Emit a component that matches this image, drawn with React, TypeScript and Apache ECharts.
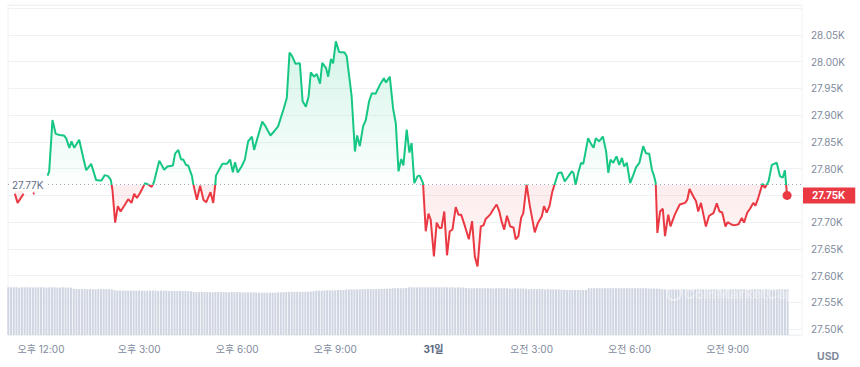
import React, { useEffect, useRef } from 'react';
import * as echarts from 'echarts';

// minutes after 12:00 PM (day 30)
const times = [
  -48, -43, -32, -25, -15, -12, 0,
  12, 15, 21, 27, 34, 42, 46, 52, 56, 61, 70, 79, 83, 92, 101, 107, 111, 117, 123, 128, 131, 136, 141, 146, 153, 160, 166, 171, 176, 182, 191, 197, 203, 207,
  217, 226, 232, 242, 246, 252, 257, 261, 266, 270, 277, 279, 286, 292, 298, 303, 311, 316, 320, 321, 330, 333, 341, 347, 352, 356, 361, 368, 374, 380, 387, 391, 397,
  406, 412, 421, 428, 435, 445, 451, 456, 461, 467, 475, 480, 486, 491, 495, 501, 506, 512, 516, 523, 527, 532, 536, 541, 547, 557, 561, 570, 576, 580, 585, 591, 596,
  602, 607, 614, 622, 629, 633, 640, 646, 651, 656, 661, 665, 671, 676, 680, 685, 691, 695, 701, 706, 711, 715, 721, 726, 731, 735, 740, 745, 750, 755, 761, 766, 771,
  778, 785, 791, 796, 801, 807, 812, 816, 824, 830, 836, 841, 845, 850, 855, 861, 867, 871, 876, 881, 885, 891, 897, 900, 906, 912, 919, 923, 928, 933, 938, 944, 949,
  955, 961, 968, 974, 977, 981, 986, 991, 995, 1004, 1010, 1014, 1018, 1024, 1031, 1037, 1041, 1045, 1050, 1056, 1061, 1066, 1070, 1075, 1081, 1087, 1092, 1098, 1105,
  1110, 1116, 1121, 1125, 1128, 1131, 1136, 1141, 1145, 1151, 1155, 1163, 1172, 1182, 1186, 1190, 1197, 1202, 1206, 1211, 1220, 1226, 1234, 1240, 1245, 1250, 1256,
  1260, 1266, 1272, 1280, 1286, 1290, 1296, 1301, 1307, 1311, 1316, 1324, 1328, 1335, 1341, 1350, 1356, 1361, 1365, 1369,
];

// BTC price, USD (null = gap)
const prices: (number | null)[] = [
  27753, 27736, 27753, null, 27753, 27754, null,
  27787, 27795, 27891, 27865, 27863, 27862, 27857, 27839, 27851, 27839, 27854, 27814, 27797, 27809, 27779, 27778, 27778, 27788, 27786, 27779, 27761, 27699, 27730, 27720, 27731, 27743, 27736, 27753, 27745, 27755, 27773, 27770, 27766, 27774,
  27815, 27798, 27804, 27806, 27828, 27835, 27817, 27817, 27807, 27806, 27786, 27773, 27742, 27768, 27742, 27737, 27756, 27736, 27773, 27787, 27804, 27809, 27809, 27817, 27793, 27812, 27793, 27804, 27817, 27851, 27860, 27835, 27857,
  27888, 27879, 27862, 27870, 27879, 27911, 27932, 28017, 28010, 27996, 27997, 27926, 27916, 27935, 27980, 27972, 27977, 27959, 27998, 27988, 27972, 28005, 27997, 28038, 28018, 28017, 28010, 27935, 27832, 27862, 27842, 27879, 27891,
  27926, 27941, 27940, 27957, 27969, 27961, 27972, 27913, 27885, 27795, 27818, 27806, 27873, 27830, 27848, 27773, 27786, 27787, 27773, 27683, 27716, 27705, 27636, 27699, 27689, 27689, 27720, 27638, 27683, 27686, 27728, 27714, 27714,
  27692, 27668, 27702, 27636, 27617, 27692, 27694, 27706, 27714, 27724, 27733, 27720, 27702, 27686, 27712, 27692, 27690, 27668, 27674, 27708, 27717, 27770, 27730, 27714, 27681, 27699, 27711, 27730, 27718, 27730, 27756, 27776, 27792,
  27793, 27776, 27786, 27795, 27792, 27770, 27793, 27811, 27809, 27857, 27845, 27839, 27857, 27851, 27860, 27832, 27792, 27817, 27811, 27823, 27807, 27820, 27804, 27811, 27773, 27789, 27803, 27811, 27842,
  27829, 27828, 27798, 27786, 27773, 27680, 27720, 27725, 27674, 27714, 27692, 27714, 27733, 27736, 27742, 27762, 27748, 27739, 27720, 27736, 27692, 27712, 27717, 27735, 27720, 27718, 27692,
  27700, 27696, 27694, 27696, 27708, 27699, 27718, 27725, 27736, 27731, 27745, 27772, 27764, 27776, 27807, 27811, 27786, 27783, 27797, 27750,
];

// 24h volume (B USD), one bar per 5 minutes starting at 11:00 AM
const VOL_START = -60;
const VOL_STEP = 5;
const volumes = [
  15.9, 15.9, 15.9, 15.9, 15.8, 15.9, 15.9, 15.9, 15.9, 15.8, 15.9, 15.9,
  15.9, 15.9, 15.8, 15.9, 15.9, 15.9, 15.8, 15.8, 15.9, 15.8, 15.8, 15.8,
  15.4, 15.3, 15.3, 15.3, 15.3, 15.3, 15.3, 15.3, 15.2, 15.3, 15.3, 15.3,
  15.3, 15.3, 15.2, 14.9, 14.8, 14.8, 14.8, 14.8, 14.8, 14.8, 14.8, 14.8,
  14.8, 14.8, 14.7, 14.8, 14.8, 14.8, 14.8, 14.7, 14.8, 14.8, 14.8, 14.7,
  14.7, 14.7, 14.7, 14.7, 14.7, 14.7, 14.6, 14.6, 14.3, 14.3, 14.3, 14.3,
  14.3, 14.3, 14.3, 14.2, 14.3, 14.3, 14.3, 14.3, 14.3, 14.2, 14.3, 14.3,
  14.3, 14.3, 14.2, 14.2, 14.2, 14.2, 14.2, 14.2, 14.1, 14.1, 14.1, 14.1,
  14.1, 14.1, 14.1, 14.2, 14.2, 14.3, 14.3, 14.4, 14.4, 14.4, 14.4, 14.4,
  14.4, 14.4, 14.4, 14.5, 14.6, 14.8, 14.8, 14.8, 14.8, 14.9, 14.9, 14.9,
  14.9, 15.0, 15.0, 15.0, 15.1, 15.2, 15.2, 15.2, 15.2, 15.2, 15.3, 15.3,
  15.3, 15.3, 15.3, 15.3, 15.3, 15.4, 15.4, 15.4, 15.4, 15.6, 15.6, 15.6,
  15.6, 15.6, 15.7, 15.9, 15.9, 15.9, 15.9, 15.9, 15.9, 15.9, 15.9, 15.9,
  15.9, 15.9, 15.9, 15.9, 15.9, 15.9, 15.9, 15.9, 15.8, 15.9, 15.8, 15.8,
  15.7, 15.6, 15.6, 15.6, 15.6, 15.6, 15.6, 15.6, 15.6, 15.6, 15.5, 15.6,
  15.6, 15.6, 15.6, 15.6, 15.5, 15.5, 15.6, 15.5, 15.5, 15.5, 15.4, 15.3,
  15.3, 15.3, 15.3, 15.3, 15.3, 15.2, 15.3, 15.2, 15.2, 15.2, 15.2, 15.1,
  15.1, 15.0, 15.0, 15.0, 15.0, 15.0, 15.0, 15.0, 15.0, 15.6, 15.6, 15.6,
  15.6, 15.6, 15.6, 15.6, 15.6, 15.7, 15.6, 15.6, 15.6, 15.6, 15.6, 15.6,
  15.6, 15.6, 15.6, 15.6, 15.6, 15.6, 15.6, 15.5, 15.5, 15.5, 15.5, 15.4,
  15.3, 15.2, 15.2, 15.2, 15.2, 15.2, 15.2, 15.2, 15.2, 15.2, 15.2, 15.2,
  15.2, 15.2, 15.2, 15.2, 15.2, 15.1, 15.2, 15.2, 15.2, 15.2, 15.2, 15.2,
  15.2, 15.2, 15.2, 15.2, 15.2, 15.2, 15.2, 15.2, 15.1, 15.2, 15.2, 15.2,
  15.2, 15.2, 15.2, 15.2, 15.2, 15.2, 15.2, 15.2, 15.2, 15.2, 15.2,
];

const X_TICK_STEP = 180;
const xTickValues = [0, 180, 360, 540, 720, 900, 1080, 1260];
const xTickLabels = ['오후 12:00', '오후 3:00', '오후 6:00', '오후 9:00', '31일', '오전 3:00', '오전 6:00', '오전 9:00'];
const Y_TICK_STEP = 50;
const yTickValues = [27500, 27550, 27600, 27650, 27700, 27750, 27800, 27850, 27900, 27950, 28000, 28050];

const BASE_PRICE = 27770;
const X_MIN = -60.6;
const X_MAX = 1396.4;
const Y_MIN = 27489;
const Y_MAX = 28106;
const VOL_MAX = 110;

const GREEN = '#16c784';
const RED = '#ea3943';
const GRAY = '#808a9d';
const FONT = 'Inter, "Noto Sans CJK KR", sans-serif';

const GRID = { left: 8, right: 58, top: 5, bottom: 32 };
const W = 860;
const H = 367;

const fmtK = (v: number) => (v / 1000).toFixed(2) + 'K';

export default function App() {
  const ref = useRef<HTMLDivElement>(null);

  useEffect(() => {
    if (!ref.current) return;
    const chart = echarts.init(ref.current, undefined, { renderer: 'svg' });

    const lastPrice = prices[prices.length - 1] as number;
    const lastTime = times[times.length - 1];
    const gTop = GRID.top;
    const gBottom = H - GRID.bottom;
    const gRight = W - GRID.right;
    const toY = (v: number) => gTop + ((Y_MAX - v) / (Y_MAX - Y_MIN)) * (gBottom - gTop);
    const baseFrac = (Y_MAX - BASE_PRICE) / (Y_MAX - Y_MIN);
    const baseY = toY(BASE_PRICE);
    const lastY = toY(lastPrice);

    const areaGradient = new echarts.graphic.LinearGradient(
      0, gTop, 0, gBottom,
      [
        { offset: 0, color: 'rgba(22,199,132,0.32)' },
        { offset: baseFrac, color: 'rgba(22,199,132,0.02)' },
        { offset: baseFrac, color: 'rgba(234,57,67,0.13)' },
        { offset: 1, color: 'rgba(234,57,67,0.0)' },
      ],
      true
    );

    chart.setOption({
      animation: false,
      textStyle: { fontFamily: FONT },
      grid: {
        left: GRID.left,
        right: GRID.right,
        top: GRID.top,
        bottom: GRID.bottom,
        show: true,
        borderColor: '#eff2f5',
        borderWidth: 1,
        backgroundColor: 'transparent',
      },
      xAxis: {
        type: 'value',
        min: X_MIN,
        max: X_MAX,
        minInterval: X_TICK_STEP,
        maxInterval: X_TICK_STEP,
        axisLine: { show: false },
        axisTick: { show: false },
        splitLine: { show: false },
        axisLabel: {
          showMinLabel: false,
          showMaxLabel: false,
          color: GRAY,
          fontSize: 10,
          margin: 9,
          fontFamily: FONT,
          formatter: (v: number) => {
            const i = xTickValues.indexOf(Math.round(v));
            const s = i >= 0 ? xTickLabels[i] : '';
            return s.endsWith('일') ? '{b|' + s + '}' : s;
          },
          rich: { b: { fontWeight: 'bold', color: '#58667e', fontSize: 10, fontFamily: FONT } },
        },
      },
      yAxis: [
        {
          type: 'value',
          position: 'right',
          min: Y_MIN,
          max: Y_MAX,
          minInterval: Y_TICK_STEP,
          maxInterval: Y_TICK_STEP,
          axisLine: { show: false },
          axisTick: { show: false },
          splitLine: { show: true, lineStyle: { color: '#eff2f5', width: 1 } },
          axisLabel: {
            showMinLabel: false,
            showMaxLabel: false,
            color: GRAY,
            fontSize: 10,
            margin: 9,
            fontFamily: FONT,
            // the tick hidden under the current-price tag is left blank
            formatter: (v: number) =>
              yTickValues.indexOf(Math.round(v)) >= 0 && Math.abs(v - lastPrice) > 15 ? fmtK(v) : '',
          },
        },
        { type: 'value', min: 0, max: VOL_MAX, show: false, splitLine: { show: false } },
      ],
      visualMap: {
        show: false,
        type: 'piecewise',
        seriesIndex: 1,
        dimension: 1,
        pieces: [
          { gt: BASE_PRICE, lte: Y_MAX, color: GREEN },
          { gte: Y_MIN, lte: BASE_PRICE, color: RED },
        ],
        outOfRange: { color: RED },
      },
      series: [
        {
          type: 'bar',
          name: 'volume',
          xAxisIndex: 0,
          yAxisIndex: 1,
          barWidth: 2,
          silent: true,
          itemStyle: { color: '#cfd5e1' },
          data: volumes.map((v, i) => [VOL_START + i * VOL_STEP, v]),
          z: 1,
        },
        {
          type: 'line',
          name: 'price',
          xAxisIndex: 0,
          yAxisIndex: 0,
          showSymbol: false,
          symbol: 'none',
          connectNulls: false,
          lineStyle: { width: 2 },
          areaStyle: { origin: BASE_PRICE, color: areaGradient },
          data: times.map((t, i) => [t, prices[i] === null ? '-' : prices[i]]),
          z: 3,
          markLine: {
            silent: true,
            symbol: ['none', 'none'],
            data: [
              {
                yAxis: BASE_PRICE,
                lineStyle: { type: [1, 3], color: '#a1a7bb', width: 1 },
                label: { show: false },
              },
            ],
          },
          markPoint: {
            silent: true,
            data: [
              {
                coord: [lastTime, lastPrice],
                symbol: 'circle',
                symbolSize: 9,
                itemStyle: { color: RED },
                label: { show: false },
              },
            ],
          },
        },
      ],
      graphic: [
        {
          type: 'text',
          x: GRID.left + 1,
          y: baseY,
          z: 100,
          style: {
            text: fmtK(BASE_PRICE),
            fill: '#616e85',
            fontSize: 10,
            fontFamily: FONT,
            verticalAlign: 'middle',
            backgroundColor: '#ffffff',
            padding: [1, 3, 1, 3],
          },
        },
        {
          type: 'text',
          x: gRight + 1,
          y: lastY,
          z: 100,
          style: {
            text: fmtK(lastPrice),
            fill: '#ffffff',
            fontSize: 10,
            fontWeight: 'bold',
            fontFamily: FONT,
            verticalAlign: 'middle',
            backgroundColor: RED,
            padding: [3, 10, 3, 9],
          },
        },
        {
          type: 'text',
          x: gRight + 15,
          y: gBottom + 16,
          style: {
            text: 'USD',
            fill: GRAY,
            fontSize: 10.5,
            fontWeight: 'bold',
            fontFamily: FONT,
          },
        },
        {
          type: 'circle',
          shape: { cx: gRight - 128, cy: gBottom - 42, r: 7 },
          z: 50,
          style: { fill: 'none', stroke: 'rgba(255,255,255,0.45)', lineWidth: 2 },
        },
        {
          type: 'text',
          x: gRight - 118,
          y: gBottom - 42,
          z: 50,
          style: {
            text: 'CoinMarketCap',
            fill: 'rgba(255,255,255,0.4)',
            fontSize: 14.5,
            fontWeight: 'bold',
            fontFamily: FONT,
            verticalAlign: 'middle',
          },
        },
      ],
    });

    return () => chart.dispose();
  }, []);

  return (
    <div
      ref={ref}
      style={{ position: 'fixed', left: 0, top: 0, width: W, height: H, background: '#ffffff' }}
    />
  );
}
